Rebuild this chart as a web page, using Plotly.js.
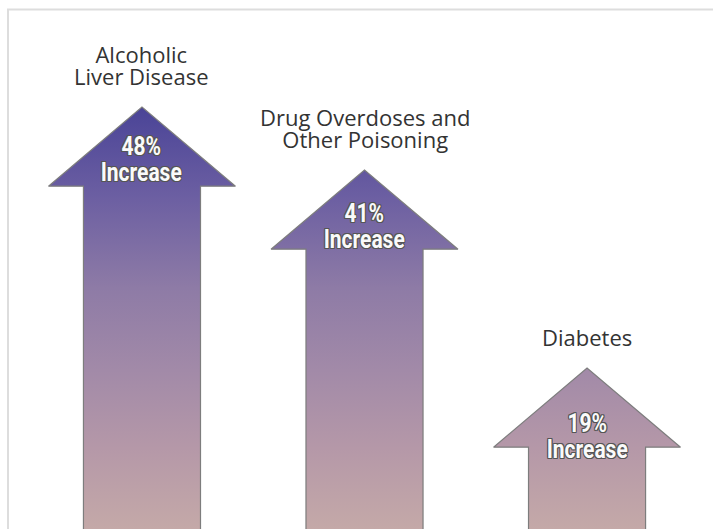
<!DOCTYPE html>
<html>
<head>
<meta charset="utf-8">
<script src="https://cdn.plot.ly/plotly-3.0.1.min.js"></script>
<style>
  html, body { margin: 0; padding: 0; background: #ffffff; }
  #chart { width: 713px; height: 529px; }
</style>
</head>
<body>
<div id="chart"></div>
<script>
// ---- data ----
var categories = ["Alcoholic<br>Liver Disease", "Drug Overdoses and<br>Other Poisoning", "Diabetes"];
var increases = [48, 41, 19];
var valueLabels = ["48%", "41%", "19%"];
var valueWord = "Increase";

// ---- geometry (in axis units) ----
var HEAD_H = 8.8;      // arrow head height (percentage units)
var HEAD_HALF = 0.42;  // half width of arrow head (category units)
var SHAFT_HALF = 0.263;

var LABEL_SIZE = 22, LABEL_LH = 1.0;   // label font size / line spacing (em)
var INNER_SIZE = 25, INNER_LH = 1.04;

var gradientScale = [
  [0.00, "#c6aba8"],
  [0.21, "#b598a8"],
  [0.39, "#a28aa8"],
  [0.58, "#8e7ba6"],
  [0.79, "#6c5fa2"],
  [1.00, "#4a4497"]
];

var traces = [];
var annotations = [];
var innerIdx = [];
var lineHeights = {};

var shadow = "1px 1px 0 #555, -1px -1px 0 #555, 1px -1px 0 #555, -1px 1px 0 #555, 0 1px 0 #555, 0 -1px 0 #555, 1px 0 0 #555, -1px 0 0 #555";

increases.forEach(function (v, i) {
  var b = v - HEAD_H;
  traces.push({
    type: "scatter",
    mode: "lines",
    x: [i - SHAFT_HALF, i - SHAFT_HALF, i - HEAD_HALF, i, i + HEAD_HALF, i + SHAFT_HALF, i + SHAFT_HALF, i - SHAFT_HALF],
    y: [0, b, b, v, b, b, 0, 0],
    fill: "toself",
    fillgradient: { type: "vertical", start: 0, stop: 48, colorscale: gradientScale },
    line: { color: "#7d7d7d", width: 1.2 },
    hoverinfo: "skip",
    showlegend: false
  });

  // category label above the arrow tip
  var n = categories[i].split("<br>").length;
  lineHeights[annotations.length] = LABEL_LH;
  annotations.push({
    x: i, y: v, xref: "x", yref: "y",
    text: categories[i], showarrow: false,
    xanchor: "center", yanchor: "middle", align: "center",
    yshift: 31 + (n - 1) * (LABEL_LH - 0.65) * LABEL_SIZE,
    font: { family: "Open Sans, Noto Sans, sans-serif", size: LABEL_SIZE, color: "#333333" }
  });

  // value text inside the arrow head
  var yText = 1.06 * v - 10;
  innerIdx.push(annotations.length);
  lineHeights[annotations.length] = INNER_LH;
  annotations.push({
    x: i, y: yText, xref: "x", yref: "y",
    text: "<b>" + valueLabels[i] + "</b><br><b>" + valueWord + "</b>", showarrow: false,
    xanchor: "center", yanchor: "middle", align: "center",
    yshift: (INNER_LH - 0.65) * INNER_SIZE - 2,
    font: { family: "Roboto, Open Sans, sans-serif", size: INNER_SIZE, color: "#fafafa", weight: 700, shadow: shadow }
  });
});

var W = 713, H = 529;
var layout = {
  width: W, height: H,
  margin: { l: 0, r: 0, t: 0, b: 0, pad: 0 },
  paper_bgcolor: "#ffffff",
  plot_bgcolor: "#ffffff",
  showlegend: false,
  hovermode: false,
  xaxis: { range: [-0.638, 2.566], visible: false, showgrid: false, zeroline: false, fixedrange: true },
  yaxis: { range: [1.11, 59.89], visible: false, showgrid: false, zeroline: false, fixedrange: true },
  annotations: annotations,
  shapes: [
    { type: "line", xref: "paper", yref: "paper", x0: 8 / W, x1: 8 / W, y0: -0.02, y1: (H - 9.5) / H,
      line: { color: "#dddddd", width: 2 } },
    { type: "line", xref: "paper", yref: "paper", x0: 7 / W, x1: 1, y0: (H - 9.5) / H, y1: (H - 9.5) / H,
      line: { color: "#dddddd", width: 2 } }
  ]
};

Plotly.newPlot("chart", traces, layout, { displayModeBar: false, staticPlot: true }).then(function (gd) {
  gd.querySelectorAll("g.annotation").forEach(function (g) {
    var k = +g.getAttribute("data-index");
    var txt = g.querySelector("text.annotation-text");
    if (!txt) return;
    var lh = lineHeights[k];
    txt.querySelectorAll("tspan.line").forEach(function (ts) {
      var dy = ts.getAttribute("dy");
      if (dy && parseFloat(dy) > 0 && lh) ts.setAttribute("dy", lh + "em");
    });
    if (innerIdx.indexOf(k) >= 0) {
      txt.style.transformBox = "fill-box";
      txt.style.transformOrigin = "center";
      txt.style.transform = "scaleX(0.84)";
    }
  });
});
</script>
</body>
</html>
